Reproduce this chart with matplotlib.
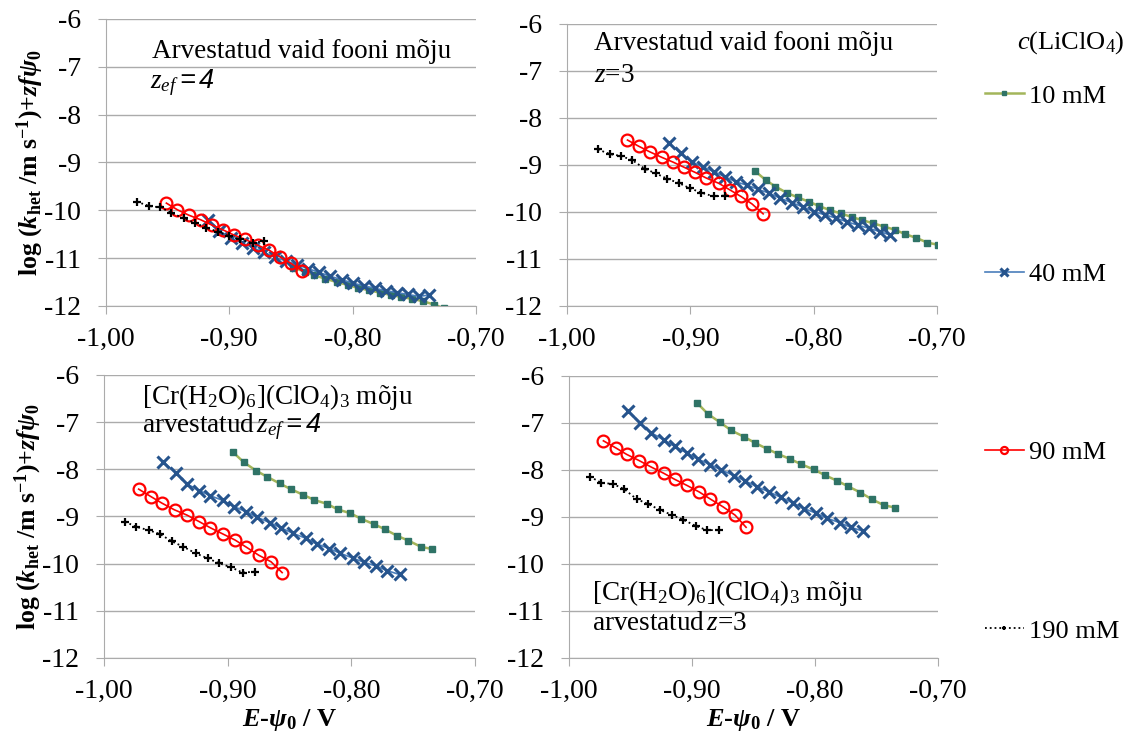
import matplotlib
matplotlib.use("Agg")
import matplotlib.pyplot as plt
from matplotlib.ticker import FuncFormatter

plt.rcParams["font.family"] = "Liberation Serif"
plt.rcParams["mathtext.fontset"] = "custom"
plt.rcParams["mathtext.rm"] = "Liberation Serif"
plt.rcParams["mathtext.it"] = "Liberation Serif:italic"
plt.rcParams["mathtext.bf"] = "Liberation Serif:bold"
plt.rcParams["mathtext.bfit"] = "Liberation Serif:italic:bold"
plt.rcParams["mathtext.sf"] = "Liberation Sans:italic"

LABELS = ["10 mM", "40 mM", "90 mM", "190 mM"]

# E - psi0 values, background electrolyte only (top row)
x_top_10 = [-0.848, -0.839, -0.831, -0.822, -0.813, -0.804, -0.796, -0.787, -0.778,
            -0.769, -0.761, -0.752, -0.743, -0.734, -0.726, -0.717, -0.708, -0.699]
x_top_40 = [-0.917, -0.908, -0.899, -0.890, -0.881, -0.872, -0.863, -0.854, -0.845, -0.836,
            -0.827, -0.818, -0.809, -0.800, -0.791, -0.782, -0.773, -0.764, -0.755, -0.746, -0.738]
x_top_90 = [-0.951, -0.942, -0.933, -0.923, -0.914, -0.905, -0.896, -0.887, -0.877,
            -0.868, -0.859, -0.850, -0.841]
x_top_190 = [-0.975, -0.965, -0.956, -0.947, -0.937, -0.928, -0.919, -0.909, -0.900,
             -0.891, -0.881, -0.872]

# top-left: z_ef = 4
tl_10 = [-11.20, -11.28, -11.36, -11.43, -11.50, -11.56, -11.62, -11.67, -11.72,
         -11.77, -11.81, -11.85, -11.90, -11.97, -12.05, -12.13, -12.22, -12.28]
tl_40 = [-10.20, -10.43, -10.57, -10.68, -10.78, -10.88, -10.98, -11.06, -11.14, -11.22,
         -11.30, -11.38, -11.45, -11.52, -11.58, -11.63, -11.68, -11.72, -11.76, -11.80, -11.77]
tl_90 = [-9.85, -9.99, -10.10, -10.20, -10.31, -10.41, -10.52, -10.61, -10.73,
         -10.83, -10.97, -11.11, -11.26]
tl_190 = [-9.82, -9.91, -9.94, -10.05, -10.17, -10.26, -10.36, -10.45, -10.54,
          -10.61, -10.69, -10.64]

# top-right: z = 3
tr_10 = [-9.12, -9.32, -9.46, -9.59, -9.69, -9.78, -9.87, -9.96, -10.03,
         -10.11, -10.17, -10.24, -10.31, -10.38, -10.47, -10.55, -10.65, -10.70]
tr_40 = [-8.54, -8.75, -8.93, -9.04, -9.14, -9.25, -9.36, -9.43, -9.52, -9.60,
         -9.71, -9.80, -9.89, -9.99, -10.06, -10.13, -10.21, -10.28, -10.35, -10.42, -10.49]
tr_90 = [-8.47, -8.60, -8.72, -8.84, -8.94, -9.05, -9.16, -9.28, -9.39,
         -9.53, -9.67, -9.83, -10.04]
tr_190 = [-8.67, -8.77, -8.81, -8.90, -9.08, -9.18, -9.29, -9.39, -9.50,
          -9.59, -9.67, -9.65]

# E - psi0 values with [Cr(H2O)6](ClO4)3 included (bottom row)
x_bot_10 = [-0.896, -0.887, -0.877, -0.868, -0.858, -0.849, -0.839, -0.830, -0.820,
            -0.811, -0.801, -0.792, -0.782, -0.773, -0.763, -0.754, -0.744, -0.735]
x_bot_40 = [-0.952, -0.942, -0.933, -0.923, -0.914, -0.904, -0.895, -0.885, -0.876, -0.866,
            -0.857, -0.847, -0.837, -0.828, -0.818, -0.809, -0.799, -0.790, -0.780, -0.771, -0.761]
x_bot_90 = [-0.972, -0.962, -0.953, -0.943, -0.933, -0.923, -0.914, -0.904, -0.894,
            -0.885, -0.875, -0.865, -0.856]
x_bot_190 = [-0.983, -0.974, -0.964, -0.955, -0.945, -0.936, -0.926, -0.916, -0.907,
             -0.897, -0.888, -0.878]

# bottom-left: z_ef = 4
bl_10 = [-7.63, -7.85, -8.03, -8.16, -8.30, -8.42, -8.54, -8.65, -8.73,
         -8.85, -8.93, -9.05, -9.16, -9.27, -9.41, -9.51, -9.64, -9.69]
bl_40 = [-7.84, -8.08, -8.31, -8.45, -8.56, -8.66, -8.79, -8.90, -9.02, -9.13,
         -9.24, -9.36, -9.46, -9.58, -9.68, -9.78, -9.88, -9.97, -10.05, -10.15, -10.23]
bl_90 = [-8.42, -8.58, -8.72, -8.86, -8.97, -9.11, -9.24, -9.37, -9.50,
         -9.65, -9.82, -9.96, -10.19]
bl_190 = [-9.11, -9.22, -9.29, -9.37, -9.53, -9.64, -9.78, -9.89, -9.99,
          -10.08, -10.19, -10.17]

# bottom-right: z = 3
br_10 = [-6.57, -6.81, -6.99, -7.16, -7.29, -7.42, -7.55, -7.66, -7.77,
         -7.88, -7.99, -8.11, -8.23, -8.35, -8.48, -8.62, -8.75, -8.80]
br_40 = [-6.74, -7.01, -7.21, -7.36, -7.50, -7.64, -7.77, -7.89, -8.00, -8.12,
         -8.23, -8.36, -8.47, -8.58, -8.70, -8.82, -8.92, -9.03, -9.12, -9.22, -9.30]
br_90 = [-7.38, -7.53, -7.67, -7.80, -7.94, -8.07, -8.20, -8.33, -8.47,
         -8.62, -8.78, -8.96, -9.22]
br_190 = [-8.14, -8.27, -8.30, -8.41, -8.62, -8.72, -8.85, -8.96, -9.06,
          -9.19, -9.28, -9.28]

X_TICKS = [-1.00, -0.90, -0.80, -0.70]
Y_TICKS = [-12, -11, -10, -9, -8, -7, -6]

GRID = "#ABABAB"
FS = 19.5

STYLES = [
    dict(color="#A3B55A", lw=1.8, marker="s", ms=4, mfc="#2F7366", mec="#2F7366"),
    dict(color="#4A7EBB", lw=1.2, marker="x", ms=9, mec="#26548D", mew=2.2),
    dict(color="#FF0000", lw=1.2, marker="o", ms=8.5, mfc="none", mec="#FF0000", mew=1.6),
    dict(color="black", lw=1.3, ls=":", marker="+", ms=6, mec="black", mew=1.6),
]

ylab = r'log ($\mathbfit{k}_{\mathbf{het}}$ /m s$^{\mathbf{-1}}$)+$\mathbfit{zf\psi}_{\mathbf{0}}$'
xlab = r'$\mathbfit{E}$-$\mathbfit{\psi}_{\mathbf{0}}$ / V'

fig = plt.figure(figsize=(11.26, 7.35), dpi=100)

panels = [
    ([0.0941, 0.5837, 0.3286, 0.3905], [x_top_10, x_top_40, x_top_90, x_top_190], [tl_10, tl_40, tl_90, tl_190]),
    ([0.5036, 0.5837, 0.3286, 0.3837], [x_top_10, x_top_40, x_top_90, x_top_190], [tr_10, tr_40, tr_90, tr_190]),
    ([0.0924, 0.1048, 0.3295, 0.3850], [x_bot_10, x_bot_40, x_bot_90, x_bot_190], [bl_10, bl_40, bl_90, bl_190]),
    ([0.5053, 0.1048, 0.3277, 0.3837], [x_bot_10, x_bot_40, x_bot_90, x_bot_190], [br_10, br_40, br_90, br_190]),
]

axes = []
for rect, xs, ys in panels:
    ax = fig.add_axes(rect)
    for x, y, lab, st in zip(xs, ys, LABELS, STYLES):
        ax.plot(x, y, label=lab, **st)
    ax.set_xlim(-1.0, -0.7)
    ax.set_ylim(-12, -6)
    ax.set_xticks(X_TICKS)
    ax.set_yticks(Y_TICKS)
    ax.xaxis.set_major_formatter(FuncFormatter(lambda v, p: f"{v:.2f}".replace(".", ",")))
    ax.yaxis.set_major_formatter(FuncFormatter(lambda v, p: f"{v:.0f}"))
    ax.grid(axis="y", color=GRID, lw=1)
    ax.set_axisbelow(True)
    for s in ["top", "right"]:
        ax.spines[s].set_visible(False)
    for s in ["left", "bottom"]:
        ax.spines[s].set_color(GRID)
    ax.tick_params(axis="both", direction="out", length=6, color=GRID, labelsize=20)
    ax.tick_params(axis="x", pad=9)
    ax.tick_params(axis="y", pad=12)
    axes.append(ax)

# annotations
axes[0].text(0.124, 0.885, "Arvestatud vaid fooni mõju", transform=axes[0].transAxes, fontsize=FS, va="center")
axes[0].text(0.119, 0.777, r"$z_{ef}\mathsf{=4}$", transform=axes[0].transAxes, fontsize=FS, va="center")
axes[1].text(0.073, 0.929, "Arvestatud vaid fooni mõju", transform=axes[1].transAxes, fontsize=FS, va="center")
axes[1].text(0.073, 0.816, r"$z$=3", transform=axes[1].transAxes, fontsize=FS, va="center")
axes[2].text(0.102, 0.923, r"[Cr(H$_2$O)$_6$](ClO$_4$)$_3$ mõju", transform=axes[2].transAxes, fontsize=FS, va="center")
axes[2].text(0.102, 0.817, r"arvestatud$\,z_{ef}\mathsf{=4}$", transform=axes[2].transAxes, fontsize=FS, va="center")
axes[3].text(0.0615, 0.229, r"[Cr(H$_2$O)$_6$](ClO$_4$)$_3$ mõju", transform=axes[3].transAxes, fontsize=FS, va="center")
axes[3].text(0.0615, 0.123, r"arvestatud$\,z$=3", transform=axes[3].transAxes, fontsize=FS, va="center")

for ax in (axes[0], axes[2]):
    ax.set_ylabel(ylab, fontsize=18.5, fontweight="bold")
    ax.yaxis.set_label_coords(-0.163, 0.5)
for ax in (axes[2], axes[3]):
    ax.set_xlabel(xlab, fontsize=19, fontweight="bold", labelpad=2)

# legend
fig.text(0.951, 0.942, r"$c$(LiClO$_4$)", fontsize=19, ha="center", va="center")
handles, labels = axes[0].get_legend_handles_labels()
fig.legend(handles, labels, loc="upper left", bbox_to_anchor=(0.865, 0.90), frameon=False,
           fontsize=19, labelspacing=5.87, handlelength=1.5, handletextpad=0.2, markerscale=0.6,
           borderaxespad=0)

fig.savefig("out.png", dpi=100)
